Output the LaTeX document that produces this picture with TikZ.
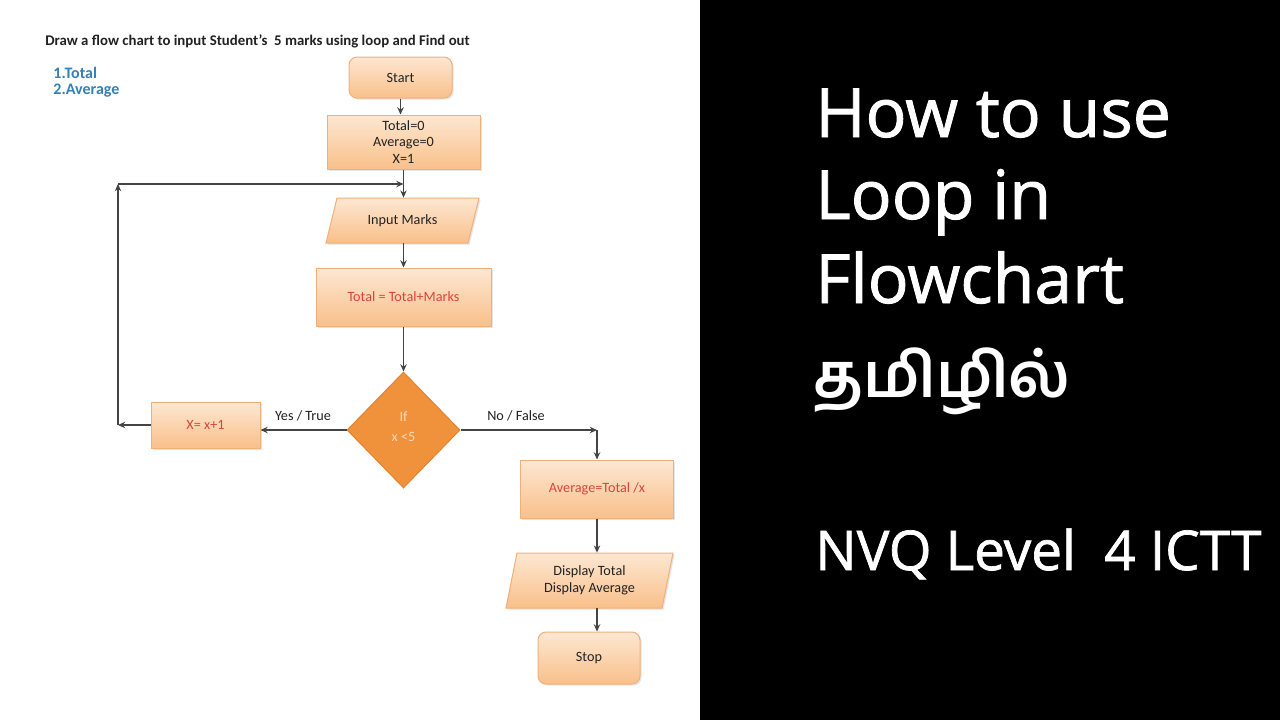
\documentclass[tikz,border=0pt]{standalone}
\usepackage{fontspec}
\setmainfont{Carlito}
\newfontfamily\headfont[FakeBold=1.3]{Open Sans}
\newfontfamily\tamilfont[Script=Tamil]{Hind Madurai}
\usetikzlibrary{shapes.geometric,arrows.meta,shadows}
\definecolor{peachtop}{HTML}{FDE7D2}
\definecolor{peachbot}{HTML}{F9C08A}
\definecolor{boxborder}{HTML}{F1B07A}
\definecolor{dorange}{HTML}{F0913C}
\definecolor{dborder}{HTML}{E3842F}
\definecolor{dtext}{HTML}{FBD8B6}
\definecolor{redtext}{HTML}{D8453E}
\definecolor{linegray}{HTML}{444444}
\definecolor{bluetext}{HTML}{3580B4}
\definecolor{darktext}{HTML}{222222}
\begin{document}
\begin{tikzpicture}[x=0.5pt,y=-0.5pt,
  boxfont/.style={font=\fontsize{7.1}{8.4}\selectfont},
  fcbox/.style={rectangle, draw=boxborder, line width=0.5pt, top color=peachtop, bottom color=peachbot,
    boxfont, align=center, inner sep=0pt, text=darktext,
    drop shadow={shadow xshift=0.8pt, shadow yshift=-0.8pt, opacity=0.2}},
  parashape/.style={draw=boxborder, line width=0.5pt, top color=peachtop, bottom color=peachbot,
    drop shadow={shadow xshift=0.8pt, shadow yshift=-0.8pt, opacity=0.2}},
  paratext/.style={rectangle, boxfont, align=center, inner sep=0pt, text=darktext},
  arr/.style={draw=linegray, line width=0.65pt, -{Stealth[length=3.6pt,width=3.2pt]}},
  lbl/.style={boxfont, text=darktext, inner sep=0pt},
  headline/.style={anchor=base west, text=white, inner sep=0pt, font=\headfont\fontsize{34}{40}\selectfont}
]
\useasboundingbox (0,0) rectangle (1280,720);
\fill[white] (0,0) rectangle (700,720);
\fill[black] (700,0) rectangle (1280,720);

% heading texts
\node[anchor=west, inner sep=0pt, text=darktext, font=\bfseries\fontsize{7.4}{8.5}\selectfont] (title) at (45,41)
  {Draw a flow chart to input Student’s\ \ 5 marks using loop and Find out};
\node[anchor=west, inner sep=0pt, text=bluetext, font=\bfseries\fontsize{8}{9}\selectfont] (item1) at (53,73) {1.Total};
\node[anchor=west, inner sep=0pt, text=bluetext, font=\bfseries\fontsize{8}{9}\selectfont] (item2) at (53,91) {2.Average};

% flowchart nodes
\node[fcbox, rounded corners=4pt, minimum width=51.5pt, minimum height=20.5pt] (start) at (400.5,77.5) {Start};
\node[fcbox, minimum width=76.5pt, minimum height=27pt, font=\fontsize{7.1}{8.25}\selectfont] (init) at (403.5,142) {Total=0\\Average=0\\X=1};

\path[parashape] (337,198) -- (479,198) -- (468,243) -- (326,243) -- cycle;
\node[paratext, minimum width=71pt, minimum height=22.5pt] (inp) at (402.5,220.5) {Input Marks};

\node[fcbox, minimum width=87.5pt, minimum height=29pt, text=redtext] (tot) at (403.5,297) {Total = Total+Marks};

\node[diamond, draw=dborder, fill=dorange, line width=0.5pt, minimum width=56.5pt, minimum height=58pt,
  inner sep=0pt, align=center, text=dtext] (dia) at (403.5,430) {};
\node[font=\fontsize{7.1}{10}\selectfont, align=center, text=dtext, inner sep=0pt] (diatext) at (403.5,427) {If\\x <5};

\node[fcbox, minimum width=54.5pt, minimum height=23pt, text=redtext] (xbox) at (205.5,425) {X= x+1};

\node[fcbox, minimum width=76.5pt, minimum height=29pt, text=redtext] (avg) at (597,489) {Average=Total /x};

\path[parashape] (517,553) -- (673,553) -- (662,608) -- (506,608) -- cycle;
\node[paratext, minimum width=78pt, minimum height=27.5pt] (disp) at (589.5,580.5) {Display Total\\Display Average};

\node[fcbox, rounded corners=4pt, minimum width=51pt, minimum height=26pt] (stop) at (589,658) {Stop};

% connectors
\coordinate (lt) at (118,184);
\coordinate (lb) at (118,425);
\coordinate (nc) at (597,430);
\draw[arr] (start.south) -- (start.south |- init.north);
\draw[arr] (init.south) -- (init.south |- inp.north);
\draw[arr] (xbox.west) -- (lb);
\draw[arr] (lb) -- (lt);
\draw[arr] (lt) -- (lt -| init.south);
\draw[arr] (inp.south -| tot.north) -- (tot.north);
\draw[arr] (tot.south) -- (dia.north);
\draw[arr] (dia.west) -- (xbox.east |- dia.west);
\node[lbl] (yes) at (303,416) {Yes / True};
\draw[arr] (dia.east) -- (nc);
\node[lbl] (no) at (516,416) {No / False};
\draw[arr] (nc) -- (avg.north);
\draw[arr] (avg.south) -- (avg.south |- disp.north);
\draw[arr] (avg.south |- disp.south) -- (avg.south |- stop.north);

% right panel
\node[headline] (h1) at (815,137) {How to use};
\node[headline] (h2) at (815,219) {Loop in};
\node[headline] (h3) at (815,303) {Flowchart};
\node[anchor=base west, text=white, inner sep=0pt, font=\tamilfont\bfseries\fontsize{31}{38}\selectfont] (h4) at (813,397) {தமிழில்};
\node[anchor=base west, text=white, inner sep=0pt, font=\headfont\fontsize{27.4}{32}\selectfont] (h5) at (815,570) {NVQ Level\ \ 4 ICTT};
\end{tikzpicture}
\end{document}
